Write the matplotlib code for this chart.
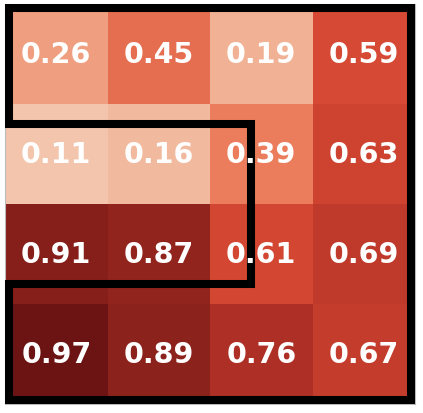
import matplotlib
matplotlib.use("Agg")
import matplotlib.pyplot as plt
import numpy as np
from matplotlib.colors import LinearSegmentedColormap

# valores de la matriz (filas de arriba hacia abajo)
fila1 = [0.26, 0.45, 0.19, 0.59]
fila2 = [0.11, 0.16, 0.39, 0.63]
fila3 = [0.91, 0.87, 0.61, 0.69]
fila4 = [0.97, 0.89, 0.76, 0.67]

# contorno de la region marcada (coordenadas de celda)
contorno_x = [-0.46, 3.46, 3.46, -0.46, -0.46, 1.9, 1.9, -0.46, -0.46]
contorno_y = [-0.46, -0.46, 3.46, 3.46, 2.3, 2.3, 0.7, 0.7, -0.46]

datos = np.array([fila1, fila2, fila3, fila4])

# mapa de color rojo algo apagado
rojos = LinearSegmentedColormap.from_list("rojos", [
    (0.0, "#f7dccb"),
    (0.1, "#f3c8b0"),
    (0.25, "#f0a282"),
    (0.4, "#eb7a5a"),
    (0.6, "#d64833"),
    (0.75, "#b13126"),
    (0.9, "#8a211c"),
    (1.0, "#621010"),
])

fig = plt.figure(figsize=(4.23, 4.14), dpi=100)
ax = fig.add_axes([5 / 423, 9 / 414, 410 / 423, 400 / 414])
ax.imshow(datos, cmap=rojos, vmin=0, vmax=1, aspect="auto", interpolation="nearest")

for i in range(datos.shape[0]):
    for j in range(datos.shape[1]):
        ax.text(j, i, f"{datos[i, j]:.2f}", ha="center", va="center",
                color="white", fontsize=20.5, fontweight="bold", zorder=5)

ax.plot(contorno_x, contorno_y, color="black", linewidth=5.8,
        solid_joinstyle="miter", solid_capstyle="projecting", zorder=4)

ax.set_xlim(-0.5, 3.5)
ax.set_ylim(3.5, -0.5)
ax.set_xticks([])
ax.set_yticks([])
for s in ax.spines.values():
    s.set_color("#bbbbbb")
    s.set_linewidth(0.8)

fig.savefig("out.png", dpi=100)
